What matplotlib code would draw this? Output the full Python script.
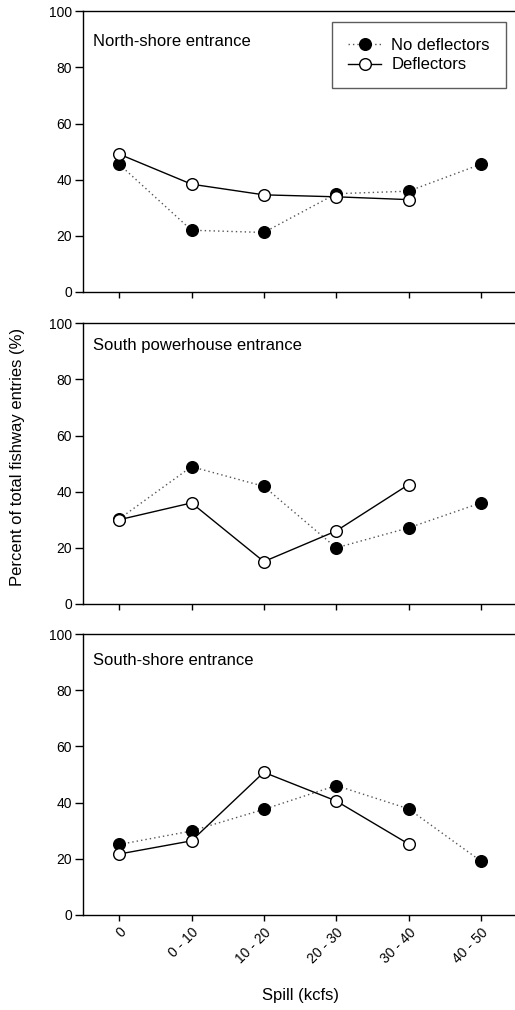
import matplotlib
matplotlib.use("Agg")
import matplotlib.pyplot as plt

plt.rcParams['font.family'] = ['Liberation Sans', 'DejaVu Sans']

spill = ["0", "0 - 10", "10 - 20", "20 - 30", "30 - 40", "40 - 50"]

# percent of total fishway entries, by entrance
north_nodef = [45.5, 22.0, 21.2, 35.0, 35.9, 45.5]
north_def = [49.1, 38.4, 34.6, 33.9, 32.9]
powerhouse_nodef = [30.3, 48.9, 41.9, 20.0, 27.1, 36.0]
powerhouse_def = [30.0, 36.0, 15.1, 26.0, 42.5]
south_nodef = [25.1, 29.9, 37.6, 46.1, 37.8, 19.2]
south_def = [21.7, 26.4, 50.8, 40.6, 25.3]

panels = [
    ("North-shore entrance", north_nodef, north_def, 0.891),
    ("South powerhouse entrance", powerhouse_nodef, powerhouse_def, 0.919),
    ("South-shore entrance", south_nodef, south_def, 0.908),
]
bottoms = [0.7109, 0.402, 0.0941]

W, H = 515, 1010
fig = plt.figure(figsize=(W / 100, H / 100), dpi=100)

for i, (title, nodef, defl, ty) in enumerate(panels):
    ax = fig.add_axes([83 / W, bottoms[i], 434 / W, 0.2780])
    xa = list(range(len(nodef)))
    xb = list(range(len(defl)))
    ax.plot(xa, nodef, color='#555555', linestyle=(0, (1, 2.2)), lw=1.0,
            marker='o', ms=8.4, mfc='black', mec='black', label='No deflectors')
    ax.plot(xb, defl, color='black', lw=1.0, marker='o', ms=8.4,
            mfc='white', mec='black', mew=1.0, label='Deflectors')
    ax.set_xlim(-0.5, 5.5)
    ax.set_ylim(0, 100)
    ax.set_yticks([0, 20, 40, 60, 80, 100])
    ax.set_xticks(range(len(spill)))
    ax.spines['right'].set_visible(False)
    for s in ['left', 'bottom', 'top']:
        ax.spines[s].set_linewidth(1.0)
    ax.tick_params(axis='y', direction='out', length=5.8, width=1.0,
                   labelsize=10, pad=2)
    ax.tick_params(axis='x', direction='out', length=4.3, width=1.0,
                   labelsize=10, pad=3)
    ax.text(0.023, ty, title, transform=ax.transAxes, fontsize=12,
            va='center', ha='left')
    if i < 2:
        ax.set_xticklabels([])
    else:
        ax.set_xticklabels(spill, rotation=45, ha='right',
                           rotation_mode='anchor')
        ax.set_xlabel("Spill (kcfs)", fontsize=12, labelpad=16)
    if i == 0:
        leg = ax.legend(loc='upper left', bbox_to_anchor=(0.574, 0.961),
                        fontsize=12, frameon=True, fancybox=False,
                        handlelength=2.0, handletextpad=0.6,
                        borderpad=0.95, labelspacing=0.27,
                        borderaxespad=0)
        leg.get_frame().set_edgecolor('#333333')
        leg.get_frame().set_linewidth(1.0)

fig.text(18 / W, 1 - 457 / H, "Percent of total fishway entries (%)",
         rotation=90, va='center', ha='center', fontsize=12)

fig.savefig("out.png", dpi=100)
